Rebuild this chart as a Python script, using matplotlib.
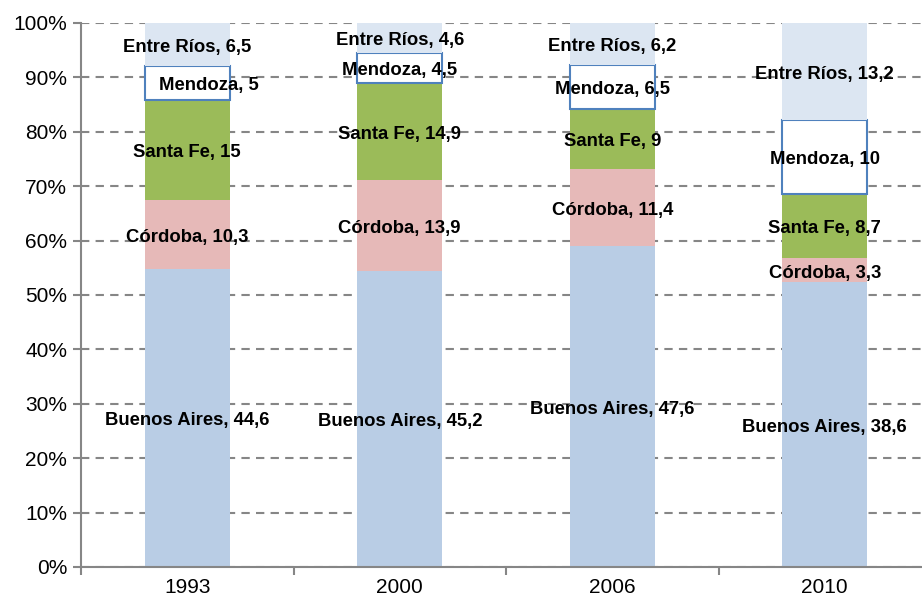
import matplotlib.pyplot as plt
import numpy as np

plt.rcParams['font.family'] = ['Liberation Sans', 'DejaVu Sans']

years = ['1993', '2000', '2006', '2010']
provinces = ['Buenos Aires', 'Córdoba', 'Santa Fe', 'Mendoza', 'Entre Ríos']
buenos_aires = [44.6, 45.2, 47.6, 38.6]
cordoba = [10.3, 13.9, 11.4, 3.3]
santa_fe = [15, 14.9, 9, 8.7]
mendoza = [5, 4.5, 6.5, 10]
entre_rios = [6.5, 4.6, 6.2, 13.2]

series = [buenos_aires, cordoba, santa_fe, mendoza, entre_rios]
colors = ['#B9CDE5', '#E6B9B8', '#9BBB59', 'white', '#DCE6F2']
edges = ['none', 'none', 'none', '#4F81BD', 'none']

data = np.array(series, dtype=float)
shares = data / data.sum(axis=0) * 100

fig = plt.figure(figsize=(9.22, 6), dpi=100)
ax = fig.add_axes([81 / 922, 33 / 600, 850 / 922, 544 / 600])

x = np.arange(len(years))
bottom = np.zeros(len(years))
for i, name in enumerate(provinces):
    ax.bar(x, shares[i], 0.4, bottom=bottom, color=colors[i],
           edgecolor=edges[i], linewidth=1.5, zorder=2)
    for j in range(len(years)):
        dx = 0.1 if (name == 'Mendoza' and j == 0) else 0
        label = f"{name}, {data[i, j]:g}".replace('.', ',')
        ax.text(x[j] + dx, bottom[j] + shares[i, j] / 2 - 0.5, label,
                ha='center', va='center', fontsize=13.3, fontweight='bold', zorder=3)
    bottom += shares[i]

ax.set_xlim(-0.5, 3.5)
ax.set_ylim(0, 100)
ax.set_yticks(np.arange(0, 101, 10))
ax.set_yticklabels([f"{v}%" for v in range(0, 101, 10)], fontsize=15)
ax.set_xticks(x)
ax.set_xticklabels(years, fontsize=15)
ax.set_xticks(np.arange(-0.5, 3.6, 1), minor=True)
ax.tick_params(axis='x', which='major', length=0, pad=8)
ax.tick_params(axis='x', which='minor', length=6, width=1.5, color='#868686')
ax.tick_params(axis='y', length=6, width=1.5, color='#868686', pad=4)
ax.yaxis.grid(True, linestyle=(0, (4, 3)), color='#868686', linewidth=1.5, zorder=0)
ax.set_axisbelow(True)
for side in ['top', 'right']:
    ax.spines[side].set_visible(False)
for side in ['left', 'bottom']:
    ax.spines[side].set_color('#868686')
    ax.spines[side].set_linewidth(1.5)

fig.savefig('out.png', dpi=100)
